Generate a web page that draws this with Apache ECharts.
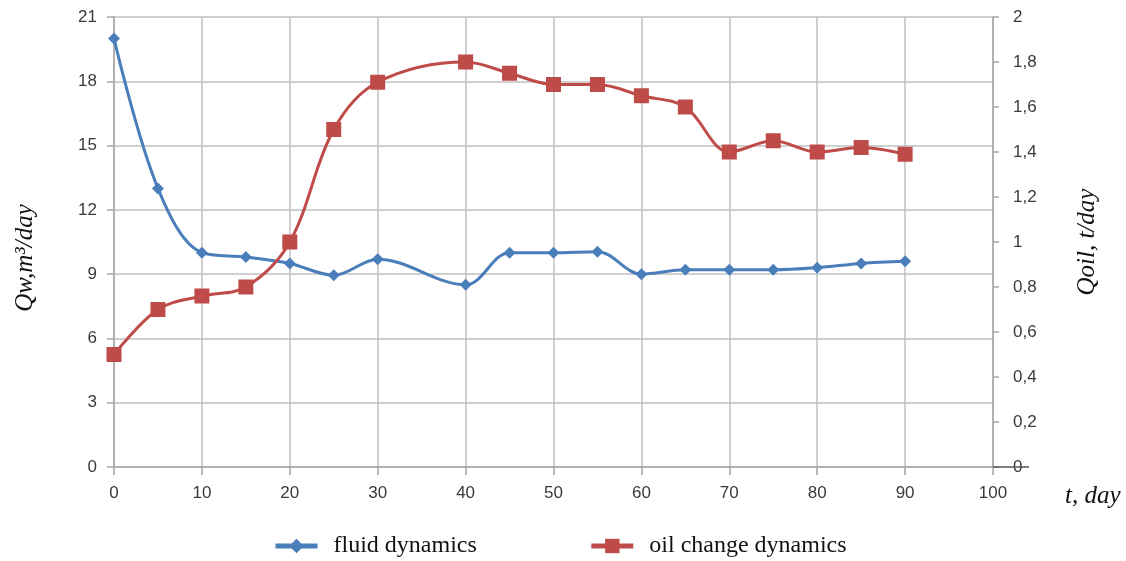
<!DOCTYPE html>
<html>
<head>
<meta charset="utf-8">
<script src="https://cdn.jsdelivr.net/npm/echarts@6/dist/echarts.min.js"></script>
<style>
html,body{margin:0;padding:0;background:#fff;}
#chart{width:1126px;height:561px;}
</style>
</head>
<body>
<div id="chart"></div>
<script>
// Data (days)
const fluidDays = [0, 5, 10, 15, 20, 25, 30, 40, 45, 50, 55, 60, 65, 70, 75, 80, 85, 90];
const fluidValues = [20, 13.0, 10.0, 9.8, 9.5, 8.95, 9.7, 8.5, 10.0, 10.0, 10.05, 9.0, 9.2, 9.2, 9.2, 9.3, 9.5, 9.6];
const oilDays = [0, 5, 10, 15, 20, 25, 30, 40, 45, 50, 55, 60, 65, 70, 75, 80, 85, 90];
const oilValues = [0.5, 0.7, 0.76, 0.8, 1.0, 1.5, 1.71, 1.8, 1.75, 1.7, 1.7, 1.65, 1.6, 1.4, 1.45, 1.4, 1.42, 1.39];
const leftTicks = [0, 3, 6, 9, 12, 15, 18, 21];
const rightTickStep = 0.2;
const seriesNames = ['fluid dynamics', 'oil change dynamics'];

const chart = echarts.init(document.getElementById('chart'));
const labelColor = '#3a3a3a';
const gridColor = '#c0c0c0';
const axisColor = '#a6a6a6';
const sansFont = 'Liberation Sans';
const serifFont = 'Liberation Serif';

chart.setOption({
  animation: false,
  backgroundColor: '#ffffff',
  grid: { left: 114, right: 133, top: 17, bottom: 94, containLabel: false },
  legend: {
    left: 268, top: 529,
    itemWidth: 42, itemHeight: 18, itemGap: 112,
    lineStyle: { width: 5 },
    textStyle: { fontFamily: serifFont, fontSize: 24, color: '#111', padding: [0, 0, 0, 11] },
    data: seriesNames
  },
  xAxis: {
    type: 'value', min: 0, max: 100, interval: 10,
    name: 't, day', nameLocation: 'end', nameGap: 72,
    nameTextStyle: { fontFamily: serifFont, fontStyle: 'italic', fontSize: 25, color: '#111', verticalAlign: 'top', padding: [17, 0, 0, 0] },
    axisLine: { show: true, onZero: false, lineStyle: { color: axisColor, width: 1.5 } },
    axisTick: { show: true, length: 8, lineStyle: { color: axisColor, width: 1.5 } },
    axisLabel: { margin: 18, fontFamily: sansFont, fontSize: 17, color: labelColor },
    splitLine: { show: true, lineStyle: { color: gridColor, width: 1.5 } }
  },
  yAxis: [
    {
      type: 'value', position: 'left', min: leftTicks[0], max: leftTicks[leftTicks.length - 1], interval: 3,
      name: 'Qw,m\u00B3/day', nameLocation: 'middle', nameRotate: 90, nameGap: 76,
      nameTextStyle: { fontFamily: serifFont, fontStyle: 'italic', fontSize: 25, color: '#111', padding: [0, 32, 0, 0] },
      axisLine: { show: true, lineStyle: { color: axisColor, width: 1.5 } },
      axisTick: { show: true, length: 7, lineStyle: { color: axisColor, width: 1.5 } },
      axisLabel: { margin: 17, fontFamily: sansFont, fontSize: 17, color: labelColor },
      splitLine: { show: true, lineStyle: { color: gridColor, width: 1.5 } }
    },
    {
      type: 'value', position: 'right', min: 0, max: 2, interval: rightTickStep,
      name: 'Qoil, t/day', nameLocation: 'middle', nameRotate: 90, nameGap: 82,
      nameTextStyle: { fontFamily: serifFont, fontStyle: 'italic', fontSize: 25, color: '#111' },
      axisLine: { show: true, lineStyle: { color: axisColor, width: 1.5 } },
      axisTick: { show: true, length: 6, lineStyle: { color: axisColor, width: 1.5 } },
      axisLabel: {
        margin: 20, fontFamily: sansFont, fontSize: 17, color: labelColor,
        formatter: v => (Math.round(v * 10) / 10).toString().replace('.', ',')
      },
      splitLine: { show: false }
    }
  ],
  series: [
    {
      name: seriesNames[0], type: 'line', yAxisIndex: 0, smooth: 0.35,
      data: fluidDays.map((d, i) => [d, fluidValues[i]]),
      symbol: 'diamond', symbolSize: 12,
      lineStyle: { color: '#4a7ebb', width: 3 },
      itemStyle: { color: '#4a7ebb' },
      z: 3
    },
    {
      name: seriesNames[1], type: 'line', yAxisIndex: 1, smooth: 0.35,
      data: oilDays.map((d, i) => [d, oilValues[i]]),
      symbol: 'rect', symbolSize: 15,
      lineStyle: { color: '#be4b48', width: 3 },
      itemStyle: { color: '#be4b48' },
      z: 4
    }
  ]
});

// short dark stub extending the base line past the right axis (as in the reference)
const p0 = chart.convertToPixel({ xAxisIndex: 0, yAxisIndex: 0 }, [100, 0]);
chart.setOption({
  graphic: [{
    type: 'line', silent: true, z: 10,
    shape: { x1: p0[0], y1: p0[1], x2: p0[0] + 36, y2: p0[1] },
    style: { stroke: '#555', lineWidth: 1.5 }
  }]
});
</script>
</body>
</html>
